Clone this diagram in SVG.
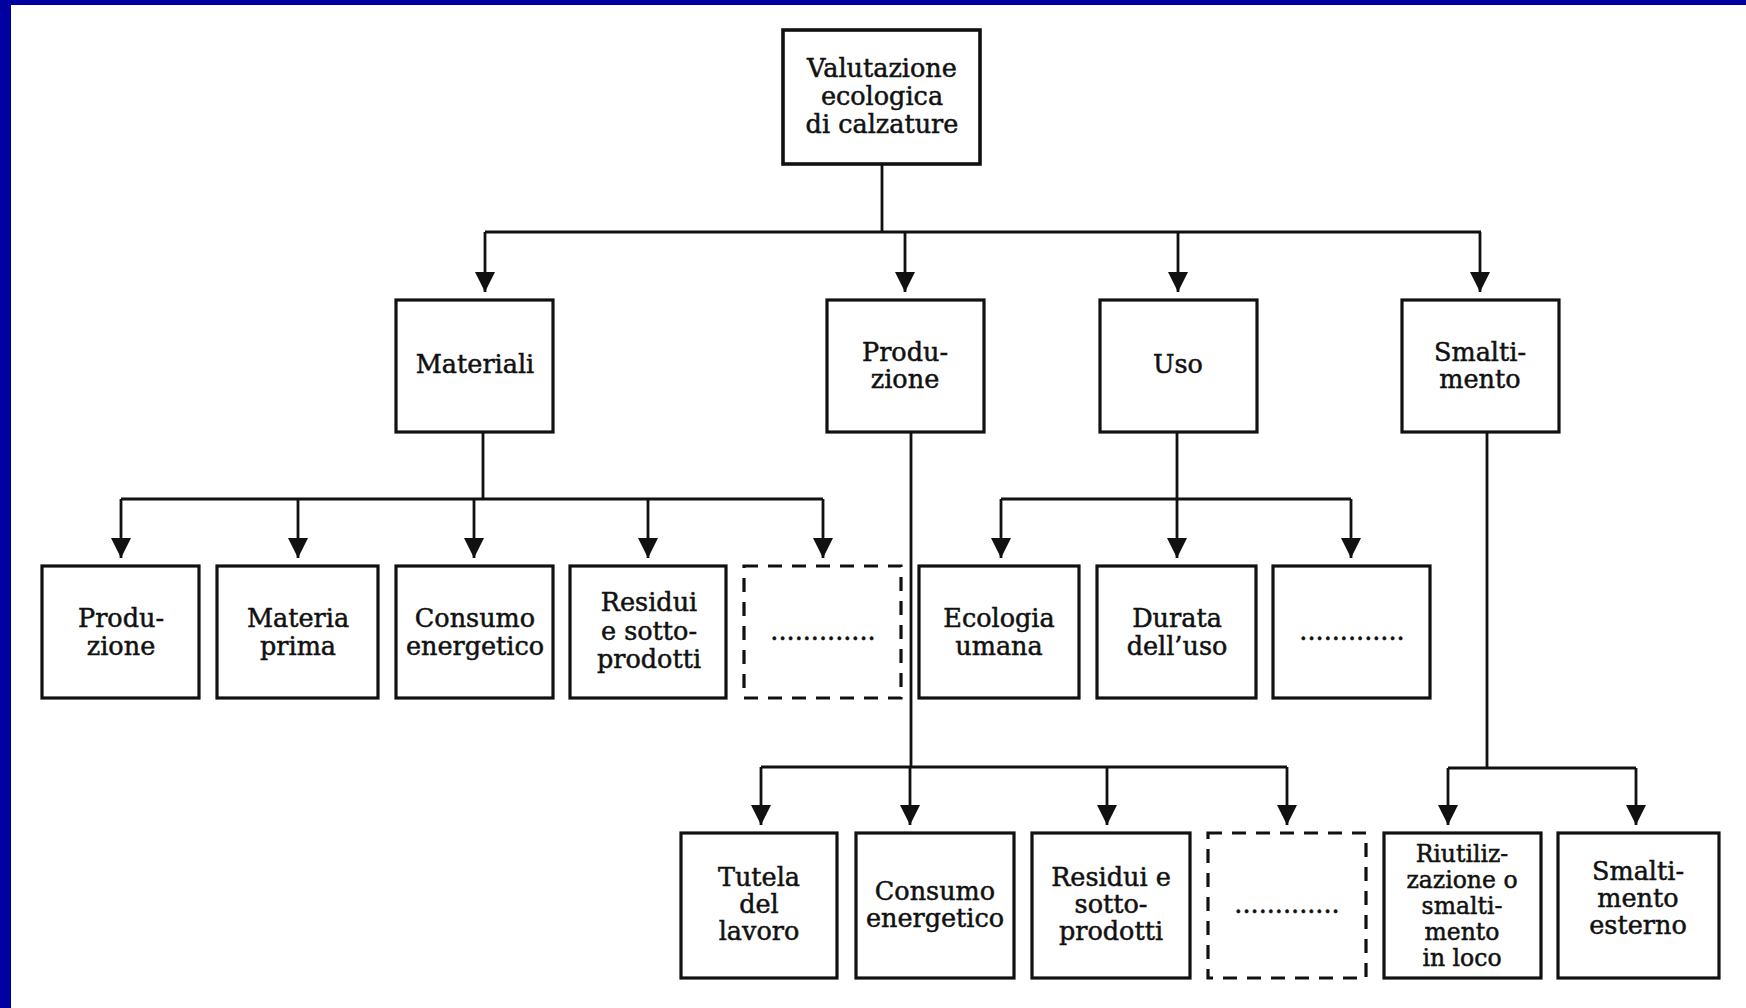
<svg xmlns="http://www.w3.org/2000/svg" width="1746" height="1008" viewBox="0 0 1746 1008">
<style>
.bx{fill:#fff;stroke:#111;stroke-width:3.2}
.dx{fill:#fff;stroke:#111;stroke-width:3.2;stroke-dasharray:14 10}
.t{font-family:"DejaVu Serif","Liberation Serif",serif;font-size:25.5px;fill:#111;stroke:#111;stroke-width:0.5;text-anchor:middle}
.s{font-size:23.5px}
.c{fill:none;stroke:#111;stroke-width:2.8}
.a{fill:none;stroke:#111;stroke-width:2.8;marker-end:url(#ah)}
</style>
<defs>
<marker id="ah" markerUnits="userSpaceOnUse" markerWidth="20" markerHeight="20" refX="20" refY="10" orient="auto">
<path d="M0,0 L20,10 L0,20 Z" fill="#111"/>
</marker>
</defs>
<rect x="0" y="0" width="1746" height="1008" fill="#fff"/>
<rect x="0" y="0" width="1746" height="5" fill="#0000A0"/>
<rect x="0" y="0" width="11" height="1008" fill="#0000A0"/>

<g id="connectors">
<path class="c" d="M882 164 V232 M485 232 H1481"/>
<path class="a" d="M485 232 V292"/>
<path class="a" d="M905 232 V292"/>
<path class="a" d="M1178 232 V292"/>
<path class="a" d="M1480 232 V292"/>

<path class="c" d="M483 432 V499 M121 499 H823"/>
<path class="a" d="M121 499 V558"/>
<path class="a" d="M298 499 V558"/>
<path class="a" d="M474 499 V558"/>
<path class="a" d="M648 499 V558"/>
<path class="a" d="M823 499 V558"/>

<path class="c" d="M1177 432 V499 M1001 499 H1351"/>
<path class="a" d="M1001 499 V558"/>
<path class="a" d="M1177 499 V558"/>
<path class="a" d="M1351 499 V558"/>

<path class="c" d="M911 432 V767 M761 767 H1287"/>
<path class="a" d="M761 767 V825"/>
<path class="a" d="M910 767 V825"/>
<path class="a" d="M1107 767 V825"/>
<path class="a" d="M1287 767 V825"/>

<path class="c" d="M1487 432 V768 M1448 768 H1636"/>
<path class="a" d="M1448 768 V825"/>
<path class="a" d="M1636 768 V825"/>
</g>

<g id="root">
<rect class="bx" x="783" y="30" width="197" height="134" style="stroke-width:3.6"/>
<text class="t" x="882" y="77">Valutazione</text>
<text class="t" x="882" y="105">ecologica</text>
<text class="t" x="882" y="133">di calzature</text>
</g>

<g id="materiali">
<rect class="bx" x="396" y="300" width="157" height="132"/>
<text class="t" x="475" y="373">Materiali</text>
</g>
<g id="produzione">
<rect class="bx" x="827" y="300" width="157" height="132"/>
<text class="t" x="905" y="361">Produ-</text>
<text class="t" x="905" y="388">zione</text>
</g>
<g id="uso">
<rect class="bx" x="1100" y="300" width="157" height="132"/>
<text class="t" x="1178" y="373">Uso</text>
</g>
<g id="smaltimento">
<rect class="bx" x="1402" y="300" width="157" height="132"/>
<text class="t" x="1480" y="361">Smalti-</text>
<text class="t" x="1480" y="388">mento</text>
</g>

<g id="m-produzione">
<rect class="bx" x="42" y="566" width="157" height="132"/>
<text class="t" x="121" y="627">Produ-</text>
<text class="t" x="121" y="655">zione</text>
</g>
<g id="m-materia-prima">
<rect class="bx" x="217" y="566" width="161" height="132"/>
<text class="t" x="298" y="627">Materia</text>
<text class="t" x="298" y="655">prima</text>
</g>
<g id="m-consumo">
<rect class="bx" x="396" y="566" width="157" height="132"/>
<text class="t" x="475" y="627">Consumo</text>
<text class="t" x="475" y="655">energetico</text>
</g>
<g id="m-residui">
<rect class="bx" x="570" y="566" width="156" height="132"/>
<text class="t" x="649" y="611">Residui</text>
<text class="t" x="649" y="640">e sotto-</text>
<text class="t" x="649" y="668">prodotti</text>
</g>
<g id="m-altro">
<rect class="dx" x="744" y="566" width="157" height="132"/>
<text class="t" x="823" y="640">.............</text>
</g>

<g id="u-ecologia">
<rect class="bx" x="919" y="566" width="160" height="132"/>
<text class="t" x="999" y="627">Ecologia</text>
<text class="t" x="999" y="655">umana</text>
</g>
<g id="u-durata">
<rect class="bx" x="1097" y="566" width="159" height="132"/>
<text class="t" x="1177" y="627">Durata</text>
<text class="t" x="1177" y="655">dell’uso</text>
</g>
<g id="u-altro">
<rect class="bx" x="1273" y="566" width="157" height="132"/>
<text class="t" x="1352" y="640">.............</text>
</g>

<g id="p-tutela">
<rect class="bx" x="681" y="833" width="156" height="145"/>
<text class="t" x="759" y="886">Tutela</text>
<text class="t" x="759" y="913">del</text>
<text class="t" x="759" y="940">lavoro</text>
</g>
<g id="p-consumo">
<rect class="bx" x="856" y="833" width="158" height="145"/>
<text class="t" x="935" y="900">Consumo</text>
<text class="t" x="935" y="927">energetico</text>
</g>
<g id="p-residui">
<rect class="bx" x="1032" y="833" width="158" height="145"/>
<text class="t" x="1111" y="886">Residui e</text>
<text class="t" x="1111" y="913">sotto-</text>
<text class="t" x="1111" y="940">prodotti</text>
</g>
<g id="p-altro">
<rect class="dx" x="1208" y="833" width="158" height="145"/>
<text class="t" x="1287" y="913">.............</text>
</g>

<g id="s-riutilizzazione">
<rect class="bx" x="1384" y="833" width="157" height="145"/>
<text class="t s" x="1462" y="862">Riutiliz-</text>
<text class="t s" x="1462" y="888">zazione o</text>
<text class="t s" x="1462" y="914">smalti-</text>
<text class="t s" x="1462" y="940">mento</text>
<text class="t s" x="1462" y="966">in loco</text>
</g>
<g id="s-esterno">
<rect class="bx" x="1558" y="833" width="161" height="145"/>
<text class="t" x="1638" y="880">Smalti-</text>
<text class="t" x="1638" y="907">mento</text>
<text class="t" x="1638" y="934">esterno</text>
</g>
</svg>
